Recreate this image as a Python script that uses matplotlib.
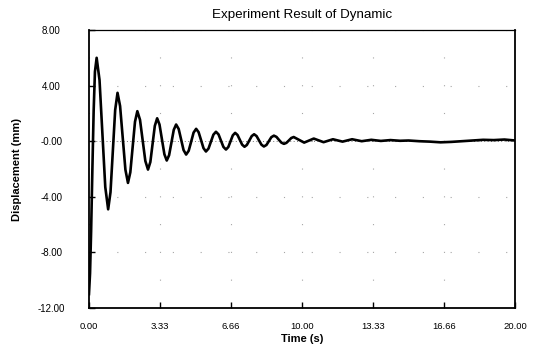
import matplotlib
matplotlib.use("Agg")
import matplotlib.pyplot as plt

# Displacement trace (time in s, displacement in mm)
time_s = [
    0.00, 0.05, 0.10, 0.16, 0.22, 0.28, 0.36,
    0.495, 0.63, 0.765, 0.90,
    1.01, 1.12, 1.23, 1.34,
    1.46, 1.585, 1.71, 1.83,
    1.94, 2.05, 2.16, 2.27,
    2.395, 2.52, 2.645, 2.77,
    2.88, 2.985, 3.09, 3.20,
    3.31, 3.425, 3.54, 3.65,
    3.76, 3.87, 3.98, 4.09,
    4.21, 4.325, 4.44, 4.56,
    4.68, 4.795, 4.91, 5.03,
    5.145, 5.26, 5.375, 5.49,
    5.61, 5.725, 5.84, 5.96,
    6.08, 6.195, 6.31, 6.43,
    6.54, 6.645, 6.75, 6.86,
    6.97, 7.08, 7.19, 7.30,
    7.41, 7.525, 7.64, 7.75,
    7.865, 7.98, 8.095, 8.21,
    8.33, 8.445, 8.56, 8.68,
    8.80, 8.915, 9.03, 9.15,
    9.265, 9.38, 9.495, 9.61,
    10.10, 10.55, 11.01, 11.45, 11.90, 12.35, 12.80, 13.25, 13.70,
    14.15, 14.60, 15.00, 15.50, 16.00, 16.50, 17.00, 17.50, 18.00,
    18.50, 19.00, 19.50, 20.00,
]
displacement_mm = [
    -11.0, -9.5, -6.5, -2.0, 2.2, 5.0, 6.0,
    4.4, 0.55, -3.3, -4.9,
    -3.67, -0.71, 2.25, 3.48,
    2.53, 0.24, -2.05, -3.0,
    -2.24, -0.42, 1.40, 2.16,
    1.54, 0.06, -1.42, -2.04,
    -1.50, -0.20, 1.10, 1.65,
    1.20, 0.13, -0.94, -1.39,
    -1.01, -0.10, 0.82, 1.20,
    0.88, 0.12, -0.64, -0.96,
    -0.69, -0.04, 0.62, 0.89,
    0.65, 0.08, -0.50, -0.74,
    -0.53, -0.03, 0.47, 0.68,
    0.49, 0.04, -0.41, -0.60,
    -0.42, 0.00, 0.42, 0.60,
    0.45, 0.10, -0.25, -0.40,
    -0.27, 0.05, 0.37, 0.50,
    0.37, 0.06, -0.25, -0.38,
    -0.27, 0.01, 0.29, 0.40,
    0.31, 0.10, -0.10, -0.19,
    -0.12, 0.05, 0.23, 0.30,
    -0.10, 0.19, -0.07, 0.14, -0.03, 0.14, 0.00, 0.10, 0.02,
    0.08, 0.03, 0.05, 0.00, -0.03, -0.08, -0.05, 0.00, 0.05,
    0.10, 0.08, 0.12, 0.05,
]

x_ticks = [0.0, 3.33, 6.66, 10.0, 13.33, 16.66, 20.0]
x_labels = ["0.00", "3.33", "6.66", "10.00", "13.33", "16.66", "20.00"]
y_ticks = [-12, -8, -4, 0, 4, 8]
y_labels = ["-12.00", "-8.00", "-4.00", "-0.00", "4.00", "8.00"]

plt.rcParams["font.family"] = ["Liberation Sans", "DejaVu Sans"]

fig = plt.figure(figsize=(5.36, 3.49), dpi=100)
ax = fig.add_axes([0.166, 0.1175, 0.795, 0.7965])

ax.plot(time_s, displacement_mm, color="black", linewidth=1.9,
        solid_joinstyle="round", zorder=3)

ax.set_xlim(0, 20)
ax.set_ylim(-12, 8)
ax.set_xticks(x_ticks)
ax.set_xticklabels(x_labels, fontsize=6.8)
ax.set_yticks(y_ticks)
ax.set_yticklabels(y_labels, fontsize=7, ha="center")
ax.tick_params(direction="in", length=4, width=1, color="black")
ax.tick_params(axis="x", pad=10)
ax.tick_params(axis="y", pad=27)

# faint, broken grid like the scanned original
ax.grid(True, color="0.65", linestyle=(0, (1, 24)), linewidth=0.8)
ax.axhline(0, color="0.45", linestyle=(0, (1, 2.5)), linewidth=0.7, zorder=1)

for side in ["left", "bottom", "right"]:
    ax.spines[side].set_linewidth(1.3)
ax.spines["top"].set_linewidth(0.9)

ax.set_title("Experiment Result of Dynamic", fontsize=9.6, pad=9)
ax.set_xlabel("Time (s)", fontsize=8, fontweight="bold")
ax.xaxis.set_label_coords(0.5, -0.094)
ax.set_ylabel("Displacement (mm)", fontsize=8, fontweight="bold")
ax.yaxis.set_label_coords(-0.157, 0.5)

fig.savefig("out.png", dpi=100)
